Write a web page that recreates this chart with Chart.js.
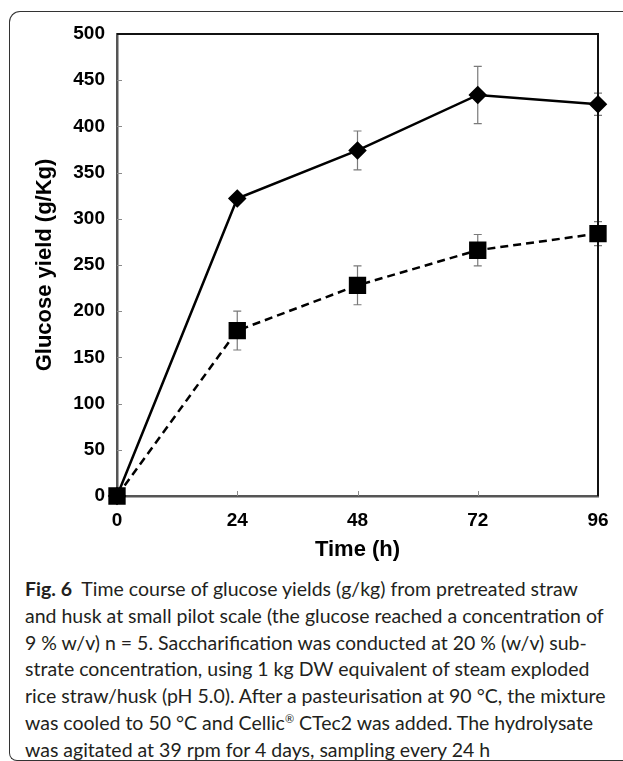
<!DOCTYPE html>
<html>
<head>
<meta charset="utf-8">
<script src="https://cdn.jsdelivr.net/npm/chart.js@4.4.1/dist/chart.umd.min.js"></script>
<style>
  body { margin: 0; background: #fff; width: 623px; height: 761px; overflow: hidden; position: relative; }
  #frame {
    position: absolute; left: 9px; top: 11px; width: 700px; height: 748px;
    border: 1.5px solid #333; border-right: none;
    border-top-left-radius: 11px; border-bottom-left-radius: 8px;
  }
  #wrap { position: absolute; left: 0; top: 0; width: 623px; height: 570px; }
  #caption {
    position: absolute; left: 25px; top: 576px; width: 600px;
    font-family: Lato, "Open Sans", sans-serif; font-size: 19.5px; line-height: 26.8px;
    color: #231f20; white-space: nowrap;
  }
  #caption b { font-weight: 700; }
  #caption sup { font-size: 11px; line-height: 0; }
</style>
</head>
<body>
<div id="frame"></div>
<div id="wrap"><canvas id="graphOne"></canvas></div>
<div id="caption">
<div><b>Fig. 6</b>&nbsp; Time course of glucose yields (g/kg) from pretreated straw</div>
<div>and husk at small pilot scale (the glucose reached a concentration of</div>
<div>9 % w/v) n = 5. Saccharification was conducted at 20 % (w/v) sub-</div>
<div>strate concentration, using 1 kg DW equivalent of steam exploded</div>
<div>rice straw/husk (pH 5.0). After a pasteurisation at 90 °C, the mixture</div>
<div>was cooled to 50 °C and Cellic<sup>®</sup> CTec2 was added. The hydrolysate</div>
<div>was agitated at 39 rpm for 4 days, sampling every 24 h</div>
</div>
<script>
var timeHours = [0, 24, 48, 72, 96];
var xTicks = [0, 24, 48, 72, 96];
var yTicks = [0, 50, 100, 150, 200, 250, 300, 350, 400, 450, 500];

var diamondYield = [0, 322, 374, 434, 424];
var diamondError = [0, 4, 21, 31, 12];
var squareYield = [0, 179, 228, 266, 284];
var squareError = [0, 21, 21, 17, 13];

var toPoints = (xs, ys) => xs.map((x, i) => ({ x: x, y: ys[i] }));

// vertical error bars, drawn under the markers
var errorBars = {
    id: 'errorBars',
    beforeDatasetsDraw: (chart) => {
        var ctx = chart.ctx;
        var xs = chart.scales.x, ys = chart.scales.y;
        ctx.save();
        ctx.strokeStyle = '#7a7a7a';
        ctx.lineWidth = 1.2;
        chart.data.datasets.forEach((ds) => {
            if (!ds.errors) return;
            ds.data.forEach((p, i) => {
                var e = ds.errors[i];
                if (!e) return;
                var px = xs.getPixelForValue(p.x);
                var top = ys.getPixelForValue(p.y + e);
                var bot = ys.getPixelForValue(p.y - e);
                ctx.beginPath();
                ctx.moveTo(px, top); ctx.lineTo(px, bot);
                ctx.moveTo(px - 4, top); ctx.lineTo(px + 4, top);
                ctx.moveTo(px - 4, bot); ctx.lineTo(px + 4, bot);
                ctx.stroke();
            });
        });
        ctx.restore();
    }
};

// box top/right edges and inner tick marks
var frameLines = {
    id: 'frameLines',
    beforeDatasetsDraw: (chart) => {
        var ctx = chart.ctx, a = chart.chartArea;
        var xs = chart.scales.x, ys = chart.scales.y;
        ctx.save();
        ctx.strokeStyle = '#8a8a8a';
        ctx.lineWidth = 1;
        yTicks.forEach((v) => {
            if (v === 0 || v === 500) return;
            var py = Math.round(ys.getPixelForValue(v)) + 0.5;
            ctx.beginPath(); ctx.moveTo(a.left, py); ctx.lineTo(a.left + 5, py); ctx.stroke();
        });
        xTicks.forEach((v) => {
            if (v === 0 || v === 96) return;
            var px = Math.round(xs.getPixelForValue(v)) + 0.5;
            ctx.beginPath(); ctx.moveTo(px, a.bottom); ctx.lineTo(px, a.bottom - 5); ctx.stroke();
        });
        ctx.strokeStyle = '#111';
        ctx.lineWidth = 2;
        ctx.beginPath();
        ctx.moveTo(a.left, a.top); ctx.lineTo(a.right, a.top); ctx.lineTo(a.right, a.bottom);
        ctx.stroke();
        ctx.restore();
    }
};

var genChart = () => {
    new Chart(
        document.getElementById('graphOne'),
        {
            type: 'scatter',
            data: {
                datasets: [{
                    label: 'Straw',
                    data: toPoints(timeHours, diamondYield),
                    errors: diamondError,
                    showLine: true,
                    clip: false,
                    borderColor: '#000',
                    borderWidth: 2.5,
                    backgroundColor: '#000',
                    pointStyle: 'rectRot',
                    pointRadius: 7.5,
                    pointHoverRadius: 7.5
                }, {
                    label: 'Husk',
                    data: toPoints(timeHours, squareYield),
                    errors: squareError,
                    showLine: true,
                    clip: false,
                    borderColor: '#000',
                    borderWidth: 2.5,
                    borderDash: [8, 5],
                    backgroundColor: '#000',
                    pointStyle: 'rect',
                    pointRadius: 10.5,
                    pointHoverRadius: 10.5
                }]
            },
            plugins: [errorBars, frameLines],
            options: {
                responsive: true,
                maintainAspectRatio: false,
                animation: false,
                events: [],
                layout: { padding: { top: 34, right: 25, left: 0, bottom: 0 } },
                plugins: {
                    legend: { display: false },
                    tooltip: { enabled: false }
                },
                scales: {
                    x: {
                        type: 'linear',
                        position: 'bottom',
                        min: 0,
                        max: 96,
                        afterFit: (scale) => { scale.height = 74; },
                        afterBuildTicks: (scale) => { scale.ticks = xTicks.map((v) => ({ value: v })); },
                        grid: { display: false, drawTicks: false },
                        border: { display: true, color: '#555', width: 2.5 },
                        ticks: {
                            padding: 13,
                            color: '#000',
                            font: { family: '"Liberation Sans", Arial, sans-serif', size: 19, weight: 'bold' }
                        },
                        title: {
                            display: true,
                            text: 'Time (h)',
                            color: '#000',
                            padding: { top: 0, bottom: 7 },
                            font: { family: '"Liberation Sans", Arial, sans-serif', size: 22, weight: 'bold' }
                        }
                    },
                    y: {
                        min: 0,
                        max: 500,
                        afterFit: (scale) => { scale.width = 117; },
                        afterBuildTicks: (scale) => { scale.ticks = yTicks.map((v) => ({ value: v })); },
                        grid: { display: false, drawTicks: false },
                        border: { display: true, color: '#555', width: 2.5 },
                        ticks: {
                            padding: 12,
                            color: '#000',
                            font: { family: '"Liberation Sans", Arial, sans-serif', size: 19, weight: 'bold' }
                        },
                        title: {
                            display: true,
                            text: 'Glucose yield (g/Kg)',
                            color: '#000',
                            padding: { top: 32, bottom: 0 },
                            font: { family: '"Liberation Sans", Arial, sans-serif', size: 22, weight: 'bold' }
                        }
                    }
                }
            }
        }
    );
};

genChart();
</script>
</body>
</html>
